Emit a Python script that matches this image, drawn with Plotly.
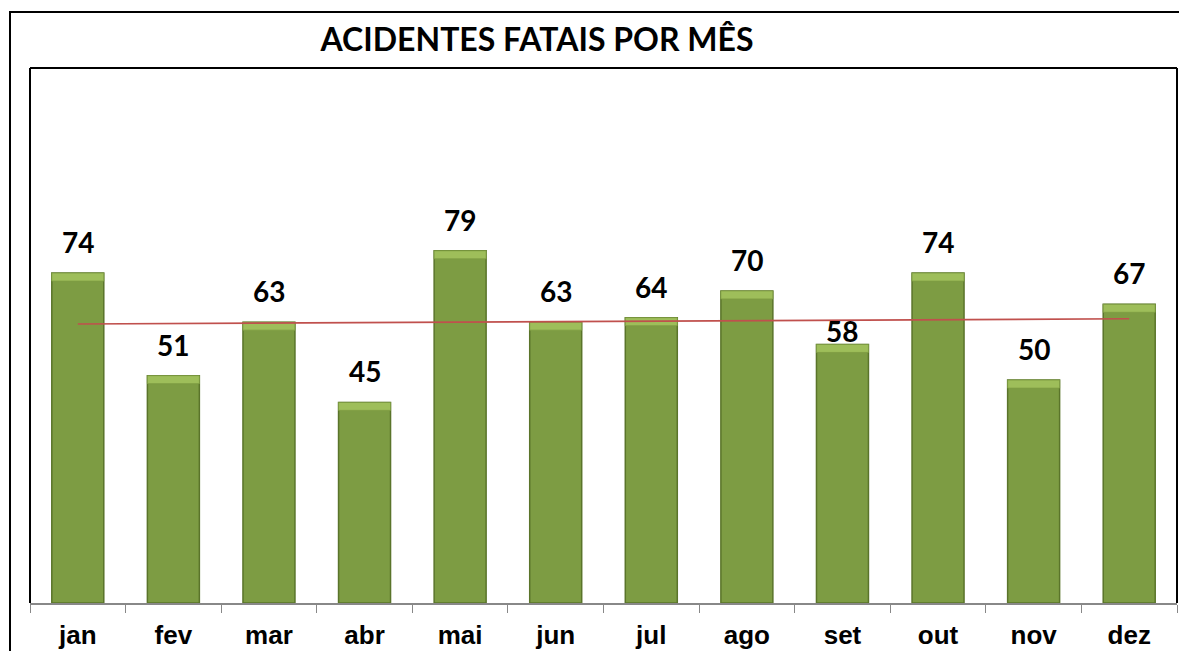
import numpy as np
import plotly.graph_objects as go

# ---- data ----
months = ["jan", "fev", "mar", "abr", "mai", "jun", "jul", "ago", "set", "out", "nov", "dez"]
fatal_accidents = [74, 51, 63, 45, 79, 63, 64, 70, 58, 74, 50, 67]
title_text = "ACIDENTES FATAIS POR MÊS"

# ---- derived ----
idx = np.arange(1, len(months) + 1)
slope, intercept = np.polyfit(idx, fatal_accidents, 1)
trend = slope * idx + intercept

cap = 1.8  # light bevel band height (data units)
body = [v - cap for v in fatal_accidents]

fig = go.Figure()
fig.add_trace(go.Bar(
    x=months, y=fatal_accidents,
    marker=dict(color="#7D9C43", line=dict(color="#5A742A", width=1.5)),
    hoverinfo="skip", showlegend=False,
))
fig.add_trace(go.Bar(
    x=months, y=[cap] * len(months), base=body,
    marker=dict(color="#9EBE5A", line=dict(color="#7D9C43", width=0.8)),
    hoverinfo="skip", showlegend=False,
))
fig.add_trace(go.Scatter(
    x=months, y=trend, mode="lines",
    line=dict(color="#C0504D", width=1.6),
    hoverinfo="skip", showlegend=False,
))

label_shift = {"set": -18}
for m, v in zip(months, fatal_accidents):
    fig.add_annotation(
        x=m, y=v, text=f"<b>{v}</b>", showarrow=False,
        yanchor="bottom", yshift=12 + label_shift.get(m, 0),
        font=dict(family="Lato", size=28, color="#000000"),
    )

fig.update_layout(
    width=1179, height=651,
    margin=dict(l=30, r=2, t=68, b=48),
    paper_bgcolor="white", plot_bgcolor="white",
    barmode="overlay", bargap=0.456,
    title=dict(text=f"<b>{title_text}</b>", x=537 / 1179, xref="container",
               y=1 - 40 / 651, yref="container", xanchor="center", yanchor="middle",
               font=dict(family="Lato", size=32, color="#000000")),
    xaxis=dict(
        type="category", tickson="boundaries", ticks="outside", ticklen=8,
        tickcolor="#888888", showline=True, linecolor="#888888", linewidth=1.5,
        showgrid=False, ticklabelstandoff=8,
        tickfont=dict(family="Liberation Sans", size=26, color="#000000"),
        tickprefix="<b>", ticksuffix="</b>",
    ),
    yaxis=dict(range=[0, 120], visible=False, showgrid=False, zeroline=False),
    shapes=[
        # plot area frame (left, top, right)
        dict(type="line", xref="paper", yref="paper", x0=0, x1=0, y0=0, y1=1,
             line=dict(color="#000000", width=2)),
        dict(type="line", xref="paper", yref="paper", x0=0, x1=1, y0=1, y1=1,
             line=dict(color="#000000", width=2)),
        dict(type="line", xref="paper", yref="paper", x0=1, x1=1, y0=0, y1=1,
             line=dict(color="#000000", width=2)),
        # outer chart frame
        dict(type="rect", xref="paper", yref="paper",
             x0=-20 / 1147, x1=1.01, y0=-0.12, y1=(603.5 - 12) / 535.5,
             line=dict(color="#000000", width=2)),
    ],
)

fig.write_html(
    "out.html",
    config={"displayModeBar": False},
    post_script="document.body.style.margin='0';document.body.style.padding='0';",
)
